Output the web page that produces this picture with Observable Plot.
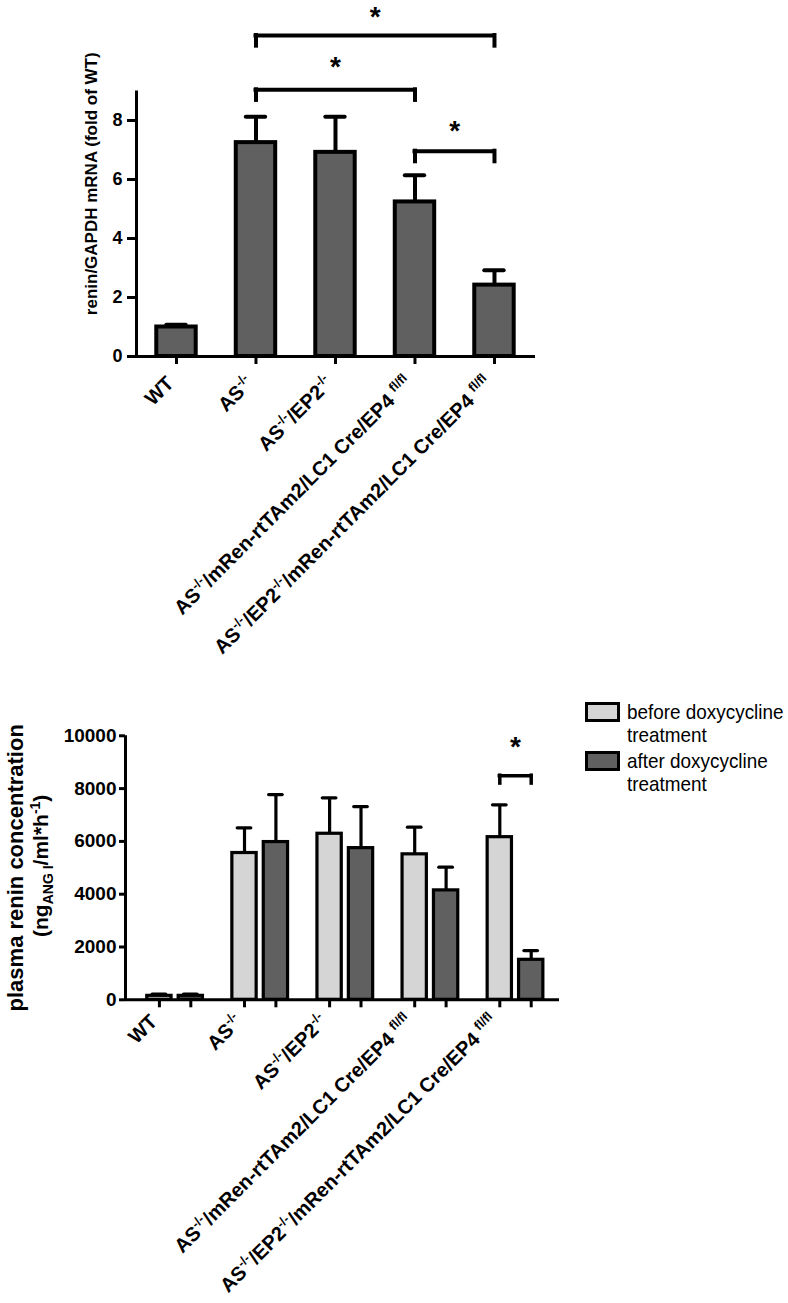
<!DOCTYPE html>
<html>
<head>
<meta charset="utf-8">
<script src="https://cdn.jsdelivr.net/npm/d3@7"></script>
<script src="https://cdn.jsdelivr.net/npm/@observablehq/plot@0.6"></script>
<style>
  body { margin: 0; background: #fff; }
  #wrap { position: relative; width: 788px; height: 1303px; overflow: hidden; background: #fff;
          font-family: "Liberation Sans", Arial, Helvetica, sans-serif; }
  #top, #bottom { position: absolute; left: 0; }
  #top { top: 0; }
  #bottom { top: 690px; }
  #wrap svg [aria-label="y-axis tick"] path, #wrap svg [aria-label="x-axis tick"] path,
  #wrap svg .tick line { stroke-width: 3px; }
  .legend { position: absolute; left: 585px; top: 702px; }
  .item { position: absolute; left: 0; width: 200px; height: 48px; }
  .box { position: absolute; left: 0; top: 0; width: 35px; height: 20px; box-sizing: border-box; border: 3px solid #000; }
  .lbl { position: absolute; left: 42px; top: -2px; font-size: 21px; line-height: 23px; color: #000;
         white-space: nowrap; transform: scaleX(0.9); transform-origin: 0 0; }
</style>
</head>
<body>
<div id="wrap">
  <div id="top"></div>
  <div id="bottom"></div>
  <div class="legend" id="legend"></div>
</div>
<script>
// ---------------- data ----------------
const groupLabels = [
  "WT",
  "AS^{-/-}",
  "AS^{-/-}/EP2^{-/-}",
  "AS^{-/-}/mRen-rtTAm2/LC1 Cre/EP4 ^{fl/fl}",
  "AS^{-/-}/EP2^{-/-}/mRen-rtTAm2/LC1 Cre/EP4 ^{fl/fl}"
];
// panel A: renin/GAPDH mRNA (fold of WT)
const mrnaMean = [1.00, 7.25, 6.92, 5.24, 2.42];
const mrnaSem  = [0.08, 0.88, 1.21, 0.90, 0.50];
const mrnaTicks = [0, 2, 4, 6, 8];
const mrnaMax = 9;
const mrnaBrackets = [
  {from: 1, to: 4, level: 10.88, star: 11.62},
  {from: 1, to: 3, level: 9.04, star: 9.93},
  {from: 3, to: 4, level: 6.96, star: 7.76}
];
// panel B: plasma renin concentration
const seriesNames = ["before doxycycline\ntreatment", "after doxycycline\ntreatment"];
const reninBefore    = [150, 5560, 6290, 5510, 6160];
const reninBeforeSem = [70, 955, 1360, 1030, 1225];
const reninAfter     = [150, 5975, 5745, 4145, 1515];
const reninAfterSem  = [70, 1800, 1575, 880, 350];
const reninTicks = [0, 2000, 4000, 6000, 8000, 10000];
const reninMax = 10000;
const reninBrackets = [{group: 4, level: 8490, star: 9700}];

// ---------------- style ----------------
const dark = "#606060", light = "#d5d5d5";
const fontFamily = "'Liberation Sans', Arial, Helvetica, sans-serif";
const plain = s => s.replace(/[\^_]\{([^}]*)\}/g, "$1");

function setRich(el, markup, o) {
  const ns = "http://www.w3.org/2000/svg";
  while (el.firstChild) el.removeChild(el.firstChild);
  const re = /([\^_])\{([^}]*)\}/g;
  let last = 0, m, offset = 0;
  const add = (txt, kind) => {
    const t = document.createElementNS(ns, "tspan");
    t.textContent = txt;
    const target = kind === "^" ? -o.sup : kind === "_" ? o.sub : 0;
    if (target !== offset) t.setAttribute("dy", target - offset);
    offset = target;
    if (kind) t.setAttribute("font-size", o.small);
    el.appendChild(t);
  };
  while ((m = re.exec(markup))) {
    if (m.index > last) add(markup.slice(last, m.index), null);
    add(m[2], m[1]);
    last = re.lastIndex;
  }
  if (last < markup.length) add(markup.slice(last), null);
}
// replace plain text nodes by their rich (super/subscript) version
function rich(svg, markups, o) {
  const texts = Array.from(svg.querySelectorAll("text"));
  markups.forEach(mk => {
    if (!/[\^_]\{/.test(mk)) return;
    texts.filter(t => t.textContent === plain(mk)).forEach(t => setRich(t, mk, o));
  });
}

// ---------------- panel A ----------------
const topRows = groupLabels.map((g, i) => ({i, mean: mrnaMean[i], upper: mrnaMean[i] + mrnaSem[i]}));
const xA = [-0.503, 4.516];
const barHalfA = 0.248, capHalfA = 0.122, dropA = 0.36;
const yLabelA = ["renin/GAPDH mRNA (fold of WT)"];

const plotA = Plot.plot({
  width: 788, height: 676,
  marginLeft: 136, marginRight: 253, marginTop: 90.5, marginBottom: 320,
  style: {fontFamily, fontSize: "18px", fontWeight: "bold", color: "#000", background: "transparent", overflow: "visible"},
  x: {type: "linear", domain: xA, ticks: d3.range(groupLabels.length), tickFormat: () => "", tickSize: 8, label: null},
  y: {domain: [0, mrnaMax], ticks: mrnaTicks, tickFormat: d => String(d), tickSize: 9, tickPadding: 5, label: null},
  marks: [
    Plot.rectY(topRows, {x1: d => d.i - barHalfA, x2: d => d.i + barHalfA, y1: 0, y2: "mean",
      fill: dark, stroke: "#000", strokeWidth: 4}),
    Plot.ruleX(topRows, {x: "i", y1: "mean", y2: "upper", stroke: "#000", strokeWidth: 4}),
    Plot.ruleY(topRows, {x1: d => d.i - capHalfA, x2: d => d.i + capHalfA, y: "upper",
      stroke: "#000", strokeWidth: 4, strokeLinecap: "round"}),
    Plot.ruleY([0], {stroke: "#000", strokeWidth: 3}),
    Plot.ruleX([xA[0]], {y1: 0, y2: mrnaMax, stroke: "#000", strokeWidth: 3}),
    // significance brackets
    Plot.ruleY(mrnaBrackets, {x1: "from", x2: "to", y: "level", stroke: "#000", strokeWidth: 4, strokeLinecap: "square"}),
    Plot.ruleX(mrnaBrackets, {x: "from", y1: "level", y2: d => d.level - dropA, stroke: "#000", strokeWidth: 4, strokeLinecap: "square"}),
    Plot.ruleX(mrnaBrackets, {x: "to", y1: "level", y2: d => d.level - dropA, stroke: "#000", strokeWidth: 4, strokeLinecap: "square"}),
    Plot.text(mrnaBrackets, {x: d => (d.from + d.to) / 2, y: "star", text: () => "*",
      fontSize: 28, fontWeight: "bold", dy: 3}),
    // category labels
    Plot.text(groupLabels, {x: (d, i) => i, frameAnchor: "bottom", text: plain, rotate: -45,
      textAnchor: "end", dx: -1.5, dy: 28, fontSize: 20, fontWeight: "bold"}),
    // y label
    Plot.text(yLabelA, {frameAnchor: "left", text: d => d, rotate: -90, textAnchor: "middle",
      dx: -45, dy: -40, fontSize: 17, fontWeight: "bold"})
  ]
});
rich(plotA, groupLabels, {sup: 8, sub: 0, small: 13});
document.getElementById("top").appendChild(plotA);

// ---------------- panel B ----------------
const subOff = 0.1845;
const series = [
  {key: "before", fill: light, mean: reninBefore, sem: reninBeforeSem, off: -subOff},
  {key: "after", fill: dark, mean: reninAfter, sem: reninAfterSem, off: subOff}
];
const botRows = series.flatMap(s => groupLabels.map((g, i) => ({
  i, key: s.key, fill: s.fill, pos: i + s.off, mean: s.mean[i], upper: s.mean[i] + s.sem[i]
})));
const xB = [-0.583, 4.517];
const barHalfB = 0.1428, capHalfB = 0.08, dropB = 300;
const yLabelB1 = ["plasma renin concentration"];
const yLabelB2 = ["(ng_{ANG I}/ml*h^{-1})"];

const plotB = Plot.plot({
  width: 788, height: 612,
  marginLeft: 125, marginRight: 229, marginTop: 45.3, marginBottom: 302.7,
  style: {fontFamily, fontSize: "19px", fontWeight: "bold", color: "#000", background: "transparent", overflow: "visible"},
  x: {type: "linear", domain: xB, ticks: botRows.map(d => d.pos), tickFormat: () => "", tickSize: 8, label: null},
  y: {domain: [0, reninMax], ticks: reninTicks, tickFormat: d => String(d), tickSize: 6, tickPadding: 3, label: null},
  marks: [
    Plot.rectY(botRows, {x1: d => d.pos - barHalfB, x2: d => d.pos + barHalfB, y1: 0, y2: "mean",
      fill: "fill", stroke: "#000", strokeWidth: 3.2}),
    Plot.ruleX(botRows, {x: "pos", y1: "mean", y2: "upper", stroke: "#000", strokeWidth: 3.2}),
    Plot.ruleY(botRows, {x1: d => d.pos - capHalfB, x2: d => d.pos + capHalfB, y: "upper",
      stroke: "#000", strokeWidth: 3.2, strokeLinecap: "round"}),
    Plot.ruleY([0], {stroke: "#000", strokeWidth: 3}),
    Plot.ruleX([xB[0]], {y1: 0, y2: reninMax, stroke: "#000", strokeWidth: 3}),
    // significance bracket (before vs after within group)
    Plot.ruleY(reninBrackets, {x1: d => d.group - subOff, x2: d => d.group + subOff, y: "level",
      stroke: "#000", strokeWidth: 3.5, strokeLinecap: "square"}),
    Plot.ruleX(reninBrackets, {x: d => d.group - subOff, y1: "level", y2: d => d.level - dropB,
      stroke: "#000", strokeWidth: 3.5, strokeLinecap: "square"}),
    Plot.ruleX(reninBrackets, {x: d => d.group + subOff, y1: "level", y2: d => d.level - dropB,
      stroke: "#000", strokeWidth: 3.5, strokeLinecap: "square"}),
    Plot.text(reninBrackets, {x: "group", y: "star", text: () => "*", fontSize: 28, fontWeight: "bold", dy: 3}),
    // category labels
    Plot.text(groupLabels, {x: (d, i) => i - subOff, frameAnchor: "bottom", text: plain, rotate: -45,
      textAnchor: "end", dx: -1, dy: 23, fontSize: 20, fontWeight: "bold"}),
    // y labels
    Plot.text(yLabelB1, {frameAnchor: "left", text: d => d, rotate: -90, textAnchor: "middle",
      dx: -110, dy: 0, fontSize: 22, fontWeight: "bold"}),
    Plot.text(yLabelB2, {frameAnchor: "left", text: plain, rotate: -90, textAnchor: "middle",
      dx: -84, dy: -2, fontSize: 21, fontWeight: "bold"})
  ]
});
rich(plotB, groupLabels, {sup: 8, sub: 0, small: 13});
rich(plotB, yLabelB2, {sup: 8, sub: 5, small: 14});
document.getElementById("bottom").appendChild(plotB);

// ---------------- legend ----------------
const legend = document.getElementById("legend");
series.forEach((s, k) => {
  const item = document.createElement("div");
  item.className = "item";
  item.style.top = (k * 49) + "px";
  const box = document.createElement("div");
  box.className = "box";
  box.style.background = s.fill;
  const lbl = document.createElement("div");
  lbl.className = "lbl";
  lbl.innerHTML = seriesNames[k].split("\n").join("<br>");
  item.appendChild(box);
  item.appendChild(lbl);
  legend.appendChild(item);
});
</script>
</body>
</html>
